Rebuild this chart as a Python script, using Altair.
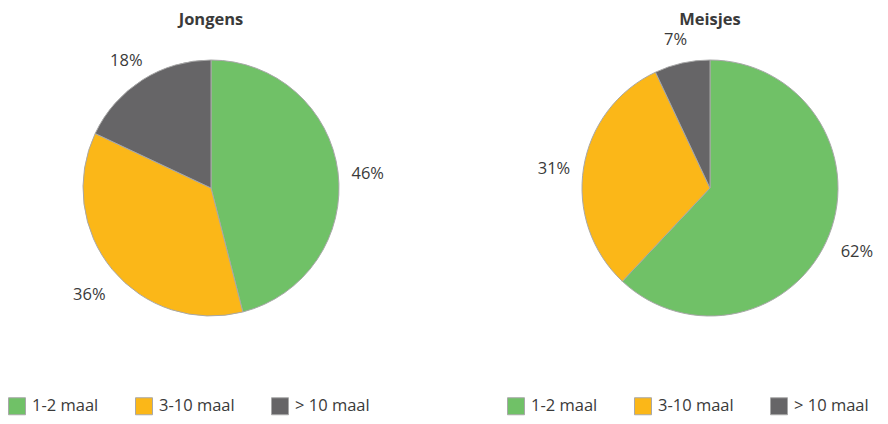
import altair as alt
import pandas as pd

categories = ["1-2 maal", "3-10 maal", "> 10 maal"]
jongens = [46, 36, 18]
meisjes = [62, 31, 7]
titles = ["Jongens", "Meisjes"]
colors = ["#70c167", "#fbb718", "#666567"]

FONT = "Open Sans"
TXT = "#3a3a3a"
R = 128


def frame(vals):
    return pd.DataFrame({
        "cat": categories,
        "val": vals,
        "ord": list(range(len(vals))),
        "label": [f"{v}%" for v in vals],
    })


def pie(vals, title, cx, cy, lx):
    df = frame(vals)
    base = alt.Chart(df)
    arc = base.mark_arc(outerRadius=R, stroke="#a8a8a8", strokeWidth=1).encode(
        theta=alt.Theta("val:Q", stack=True),
        order=alt.Order("ord:Q"),
        color=alt.Color(
            "cat:N",
            sort=categories,
            scale=alt.Scale(domain=categories, range=colors),
            legend=alt.Legend(
                orient="none", legendX=lx, legendY=389, direction="horizontal",
                title=None, symbolType="square", symbolSize=289,
                symbolStrokeColor="#a8a8a8", symbolStrokeWidth=1,
                labelFont=FONT, labelFontSize=16.5, labelColor=TXT,
                labelOffset=6, columnPadding=34, padding=0,
            ),
        ),
        x=alt.value(cx), y=alt.value(cy),
    )
    text = base.mark_text(radius=158, font=FONT, fontSize=16.5, color=TXT,
                          align="center", baseline="middle", dy=6).encode(
        theta=alt.Theta("val:Q", stack=True),
        order=alt.Order("ord:Q"),
        text="label:N",
        x=alt.value(cx), y=alt.value(cy),
    )
    ttl = alt.Chart(pd.DataFrame({"t": [title]})).mark_text(
        font=FONT, fontSize=16.5, fontWeight="bold", color=TXT, align="center", baseline="middle"
    ).encode(text="t:N", x=alt.value(cx), y=alt.value(12))
    return arc, text, ttl


a1, t1, h1 = pie(jongens, titles[0], 203, 180, 0)
a2, t2, h2 = pie(meisjes, titles[1], 702, 180, 499)

chart = alt.layer(a1, t1, h1, a2, t2, h2).resolve_scale(
    color="independent", theta="independent"
).properties(
    width=872, height=408, padding=0,
    autosize=alt.AutoSizeParams(type="none"),
).configure_view(stroke=None)

chart.save("out.html", embed_options={"renderer": "svg", "actions": False})
